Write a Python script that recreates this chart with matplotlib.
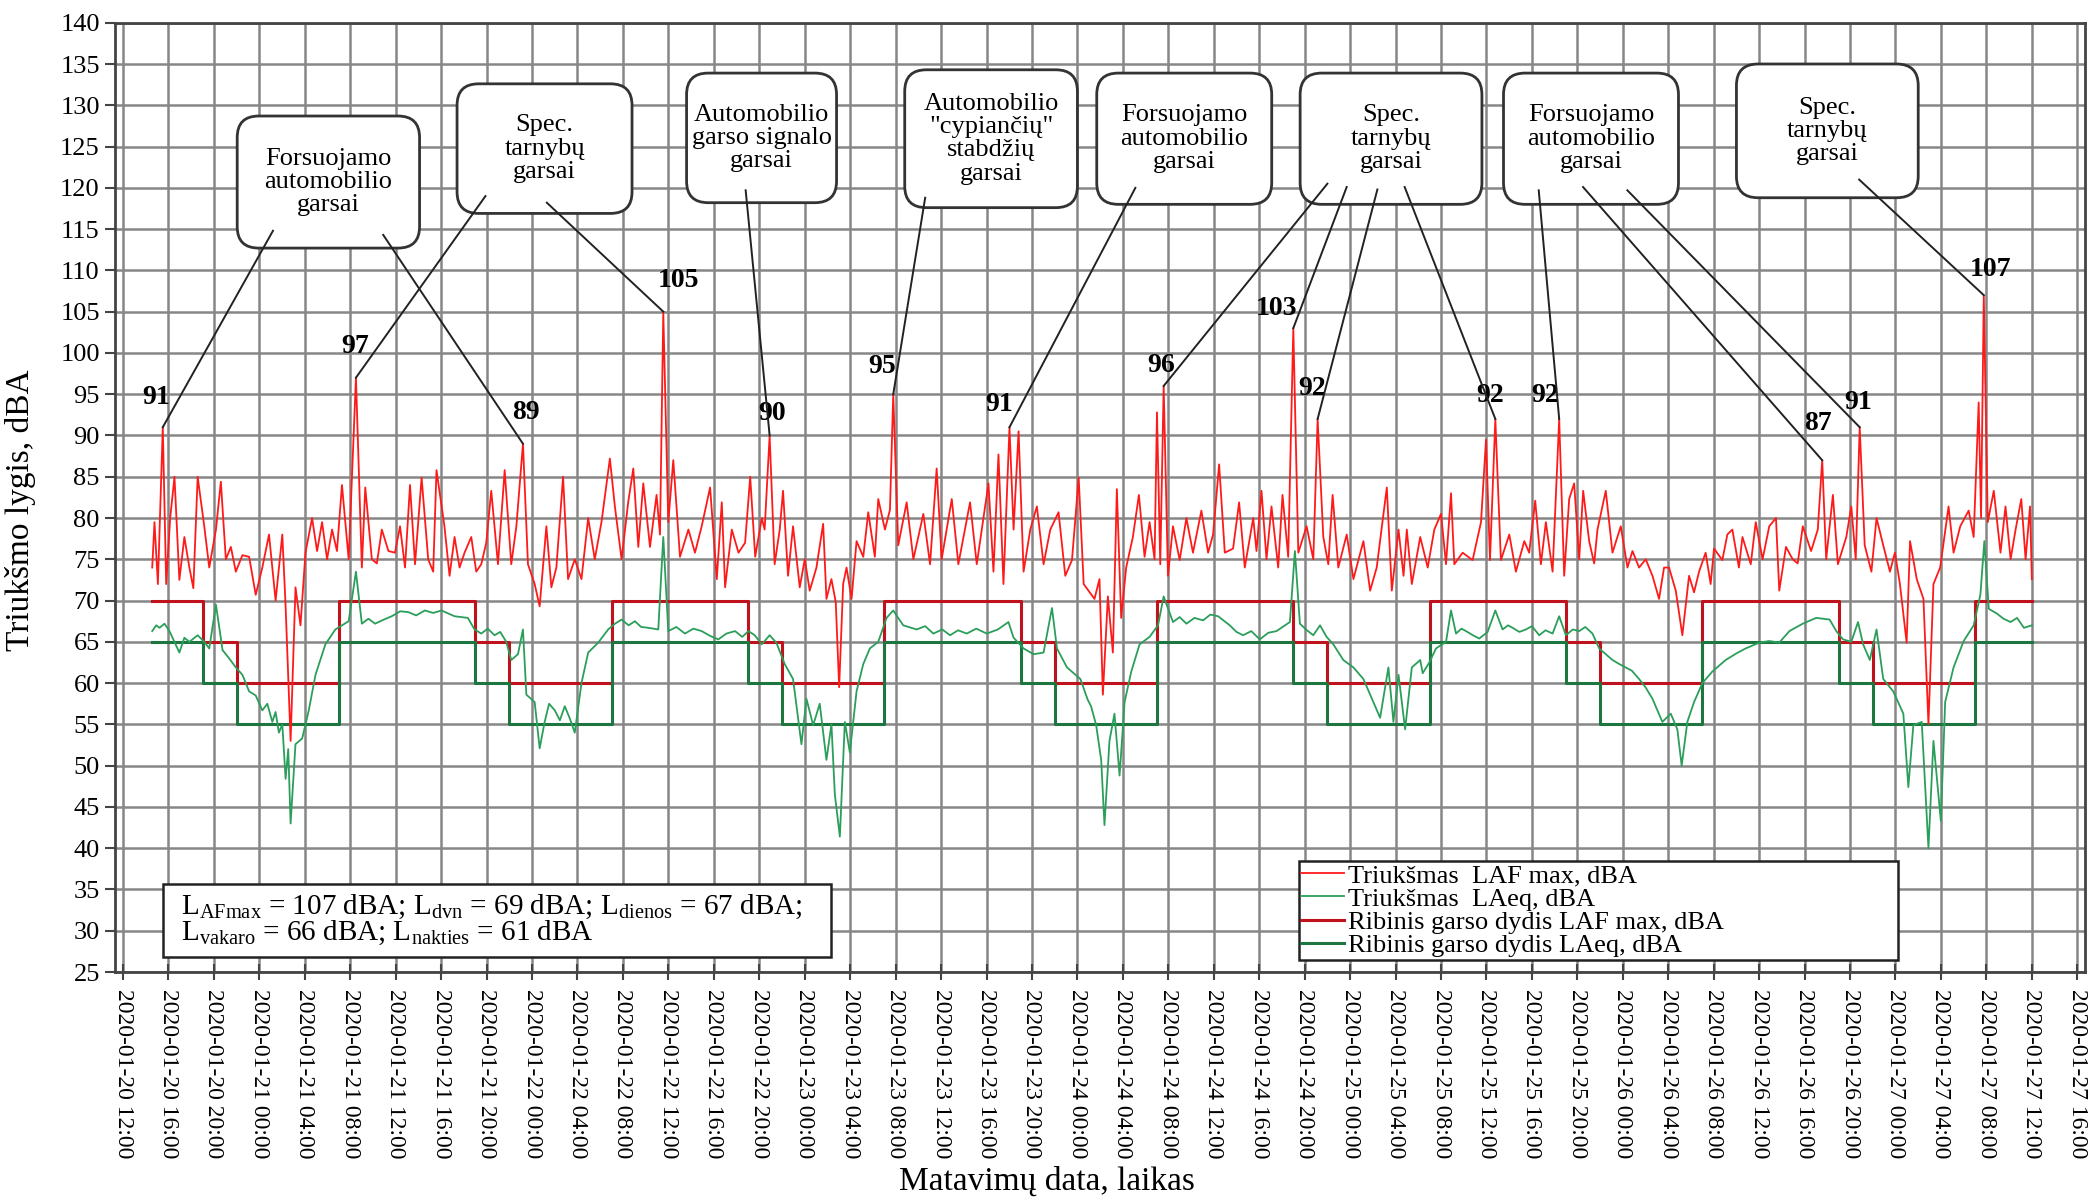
import datetime as dt
import numpy as np
import matplotlib
matplotlib.use('Agg')
import matplotlib.pyplot as plt
from matplotlib.patches import FancyBboxPatch, Rectangle
from matplotlib.ticker import MultipleLocator, FuncFormatter

plt.rcParams['font.family'] = ['Liberation Serif', 'DejaVu Serif']
plt.rcParams['mathtext.fontset'] = 'stix'

start = dt.datetime(2020, 1, 20, 12, 0)

# measured noise, hours after 2020-01-20 12:00
laf_t = [2.57, 2.77, 3.07, 3.50, 3.80, 4.15, 4.53, 4.96, 5.40, 5.84, 6.19, 6.57, 7.15, 7.59, 8.18, 8.61, 9.05, 9.49, 9.93, 10.51,
         11.10, 11.68, 12.26, 12.85, 13.43, 14.02, 14.31, 14.75, 15.18, 15.62, 16.06, 16.64, 17.08, 17.52, 17.96, 18.40, 18.83, 19.27, 19.86, 20.50,
         21.02, 21.32, 21.90, 22.34, 22.78, 23.36, 23.94, 24.38, 24.82, 25.26, 25.70, 26.28, 26.86, 27.30, 27.59,
         28.29, 28.74, 29.18, 29.62, 30.06, 30.65, 31.09, 31.53, 31.97, 32.41, 33.00, 33.59, 34.17, 34.62, 35.20, 35.64, 36.23, 36.67, 37.26, 37.70,
         38.14, 38.73, 39.17, 39.76, 40.35, 40.94, 41.52, 42.11, 42.85, 43.29, 43.88, 44.46, 44.91, 45.35, 45.79, 46.38, 46.96, 47.26, 47.55, 47.99,
         48.43, 49.02, 49.76, 50.34, 50.93, 51.67, 52.26, 52.70, 52.99, 53.58, 54.17, 54.75, 55.20, 55.64, 56.22,
         56.47, 56.91, 57.35, 57.80, 58.09, 58.53, 58.97, 59.56, 60.00, 60.44, 61.03, 61.62, 61.91, 62.35, 62.73, 63.03, 63.38, 63.68, 64.12, 64.56,
         65.15, 65.59, 66.17, 66.47, 67.06, 67.50, 67.79, 68.23, 68.97, 69.56, 70.44, 71.03, 71.61, 72.05, 72.94, 73.52, 74.55, 75.14, 76.17, 76.61,
         77.05, 77.49, 78.02, 78.38, 78.82, 79.26, 79.85, 80.43, 81.02, 81.61, 82.34, 82.93, 83.52, 84.11, 84.55,
         85.50, 85.94, 86.24, 86.68, 87.12, 87.47, 87.85, 88.29, 88.88, 89.41, 89.91, 90.35, 90.79, 91.00, 91.29, 91.59, 91.97, 92.41, 93.00, 93.59,
         94.17, 94.91, 95.50, 95.94, 96.47, 96.97, 97.70, 98.23, 98.73, 99.47, 99.76, 100.20, 100.64, 101.08, 101.67, 102.05, 102.55, 103.00, 103.44, 104.17,
         104.76, 105.14, 105.64, 106.08, 106.46, 106.96, 107.70, 108.29, 109.17, 109.76, 110.34, 111.23, 111.67, 112.26, 112.70, 112.99, 113.43, 114.17,
         114.83, 115.41, 116.00, 116.44, 116.88, 117.17, 117.90, 118.78, 119.52, 119.96, 120.31, 120.78, 121.27, 122.01, 122.59, 123.33, 123.76, 124.29, 124.79, 125.23,
         125.82, 126.40, 126.84, 127.28, 127.72, 128.16, 128.51, 129.04, 129.48, 129.77, 130.50, 131.09, 131.82, 132.41, 132.85, 133.43, 134.02, 134.61, 135.19, 135.63,
         136.07, 136.66, 137.24, 137.83, 138.27, 138.71, 139.29, 139.73, 140.03, 140.76, 141.20, 141.64, 142.22,
         142.53, 143.26, 143.70, 144.30, 144.89, 145.48, 145.77, 146.36, 146.95, 147.39, 147.84, 148.57, 149.16, 149.55, 149.90, 150.49, 150.93, 151.67, 152.11, 152.50,
         152.85, 153.29, 153.88, 154.33, 154.92, 155.51, 155.95, 156.39, 156.98, 157.28, 157.87, 158.46, 158.90, 159.34, 159.93, 160.67, 161.11, 161.70, 162.44, 162.88,
         163.32, 163.53, 163.77, 164.12, 164.65, 165.24, 165.68, 166.13, 166.57, 167.07, 167.45, 167.84, 168.00]
laf_v = [74, 79.5, 72, 91, 72, 80, 85, 72.5, 77.7, 74, 71.5, 85, 79, 74, 78.6, 84.4, 75, 76.5, 73.5, 75.5,
         75.3, 70.7, 74, 78, 70, 78, 69.3, 53, 71.6, 67, 75.8, 80, 76, 79.5, 75, 78.6, 76, 84, 75, 97,
         74, 83.7, 75, 74.5, 78.6, 76, 75.8, 79, 74, 84, 74.4, 84.9, 75, 73.5, 85.8,
         79, 73, 77.7, 74, 75.8, 77.7, 73.5, 74.4, 77, 83.3, 74.4, 85.8, 74.4, 79, 89, 74.4, 72, 69.3, 79, 71.6,
         74, 85, 72.6, 75, 72.6, 80, 75, 79.5, 87.2, 81.4, 75, 81.9, 86, 76.5, 84.2, 76.5, 82.8, 78, 105, 79.5,
         87, 75.3, 78.6, 75.8, 79, 83.7, 72.6, 81.9, 71.6, 78.6, 75.8, 77, 85, 75.3, 80,
         78.6, 90, 74.4, 78.6, 83.3, 73, 79, 71.6, 75, 71.2, 74, 79.3, 70.2, 72.6, 69.8, 59.5, 72, 74, 70.2, 77.2,
         75.3, 80.7, 75.3, 82.3, 78.6, 81, 95, 76.7, 81.9, 75, 80.5, 74.4, 86, 75, 82.3, 74.4, 81.9, 74.4, 84.2, 73.5,
         87.7, 72, 91, 78.6, 90.5, 73.5, 78.6, 81.4, 74.4, 78.6, 80.7, 73, 74.9, 84.9, 72,
         70.2, 72.6, 58.6, 70.5, 63.7, 83.5, 67.9, 74, 77.7, 82.8, 75.3, 79.5, 75, 92.8, 74.4, 96, 73, 79, 74.9, 80,
         75.8, 80.9, 75.8, 78, 86.5, 75.8, 76.3, 81.9, 74, 80, 76, 83.3, 75, 81.4, 74, 82.8, 75.3, 103, 75.8, 79,
         75, 92, 77.7, 74.4, 82.8, 74, 78, 72.6, 77.2, 71.2, 74, 83.7, 71.2, 78.6, 73, 78.6, 72, 77.7,
         74, 78.6, 80.5, 74.4, 83, 74.4, 75.8, 74.9, 79.5, 89.5, 74.9, 92, 74.9, 78, 73.5, 77.2, 75.8, 82.1, 74.4, 79.5,
         73.5, 92, 73, 82.3, 84.2, 75, 83.3, 77.2, 74.5, 78.6, 83.3, 75.8, 79, 74, 76, 74, 75, 73, 70.2, 74,
         74, 71.2, 65.8, 73, 71, 73.5, 75.8, 72, 76.3, 74.9, 78, 78.6, 74,
         77.7, 74.4, 79.5, 75, 79, 80, 71.2, 76.5, 75, 74.5, 79, 76, 78.6, 87, 75, 82.8, 74.4, 77.7, 81.4, 75,
         91, 76.7, 73.5, 80, 76.7, 73.5, 75.8, 72, 64.9, 77.2, 72.6, 70.2, 55, 72, 74, 81.4, 75.8, 79, 80.9, 77.7,
         94, 80, 107, 79.5, 83.3, 75.8, 81.4, 75, 78.6, 82.3, 75, 81.4, 72.6]

laeq_t = [2.57, 2.92, 3.21, 3.65, 4.09, 4.53, 4.96, 5.40, 5.84, 6.57, 7.15, 7.59, 8.18, 8.76, 9.34, 9.93, 10.51, 11.10, 11.68, 12.26,
          12.70, 13.14, 13.43, 13.72, 14.02, 14.31, 14.54, 14.75, 15.18, 15.77, 16.35, 16.94, 17.81, 18.69, 19.27, 19.86, 20.50, 21.02, 21.60, 22.19,
          22.80, 23.65, 24.40, 25.11, 25.80, 26.57, 27.30,
          28.03, 29.18, 30.35, 30.94, 31.53, 32.10, 32.70, 33.20, 33.73, 34.17, 34.76, 35.20, 35.50, 36.23, 36.67, 37.11, 37.50, 38.00, 38.45, 38.88,
          39.30, 39.76, 40.35, 40.94, 41.82, 42.70, 43.30, 43.88, 44.50, 45.05, 45.60, 46.23, 47.11, 47.55, 47.99, 48.70, 49.46, 50.20, 50.93, 51.70,
          52.40, 53.10, 53.87, 54.50, 55.05, 55.60, 56.22,
          56.91, 57.50, 58.24, 58.97, 59.71, 60.15, 60.74, 61.32, 61.91, 62.35, 62.65, 63.09, 63.53, 63.97, 64.56, 65.15, 65.73, 66.47, 67.20, 67.79,
          68.67, 69.85, 70.60, 71.32, 72.10, 72.79, 73.50, 74.26, 75.10, 76.02, 77.00, 77.93, 78.38, 79.26, 80.14, 81.02, 81.76, 82.20, 83.08, 84.26,
          84.90, 85.20, 85.65, 86.09, 86.38, 86.82, 87.26, 87.71, 88.15, 88.74, 89.47, 90.35, 91.09, 91.59, 92.41, 93.00, 93.59, 94.30, 95.06, 95.70,
          96.38, 97.41, 98.00, 98.58, 99.30, 100.05, 100.80, 101.52, 102.70, 103.14, 103.58, 104.20, 104.76, 105.35, 105.93, 106.52, 107.40, 108.29, 109.17, 110.05,
          110.64, 111.37, 111.81, 112.26, 112.84, 113.43, 114.17,
          114.39, 114.97, 115.56, 116.44, 116.88, 117.32, 117.80, 118.20, 118.80, 119.37, 120.10, 120.78, 121.42, 121.90, 122.30, 122.90, 123.47, 124.00, 124.64, 125.20,
          125.82, 126.40, 126.99, 127.60, 128.16, 128.70, 129.33, 129.92, 130.50, 131.09, 131.70, 132.26, 132.80, 133.43, 134.00, 134.61, 135.48, 136.22, 136.80, 137.18,
          137.68, 138.27, 139.00, 139.88, 141.05, 142.00, 142.81,
          144.00, 144.89, 145.77, 146.66, 147.84, 149.02, 150.20, 150.79, 151.38, 152.11, 152.70, 153.15, 153.74, 154.33, 154.92, 155.80, 156.69, 157.13, 157.57, 158.31,
          158.90, 159.34, 159.99, 160.37, 161.11, 162.00, 162.88, 163.47, 163.82, 164.21, 164.95, 165.50, 166.13, 166.70, 167.30, 168.00]
laeq_v = [66.3, 67, 66.7, 67.2, 66.3, 65, 63.7, 65.5, 65, 65.8, 65, 64.2, 69.5, 64, 63, 61.9, 61, 59, 58.5, 56.7,
          57.5, 55.3, 56.5, 54, 55, 48.4, 52, 43, 52.6, 53.3, 56.7, 61, 64.7, 66.5, 67, 67.5, 73.5, 67.2, 67.8, 67.2,
          67.6, 68.1, 68.7, 68.6, 68.2, 68.8, 68.5,
          68.8, 68.1, 67.9, 66.5, 66, 66.6, 65.8, 66.2, 65, 62.8, 63.5, 66.5, 58.6, 57.7, 52.1, 55.3, 57.5, 56.7, 55.5, 57.2,
          55.8, 54, 60, 63.7, 64.9, 66.5, 67.2, 67.7, 67.0, 67.5, 66.8, 66.7, 66.5, 77.7, 66.3, 66.8, 66, 66.6, 66.3, 65.7,
          65.3, 66.0, 66.3, 65.6, 66.3, 65.8, 64.7,
          65.8, 64.9, 62.3, 60.5, 52.6, 58.1, 54.9, 57.5, 50.7, 55, 46.5, 41.4, 55.3, 51.6, 59, 62.3, 64.2, 65, 67.9, 68.8,
          67, 66.5, 66.9, 66, 66.5, 65.8, 66.4, 66, 66.6, 66, 66.5, 67.4, 65.5, 64.2, 63.5, 63.7, 69.1, 64.2, 61.9, 60.5,
          58, 57.2, 54.9, 50.7, 42.8, 53, 56.3, 48.8, 57.7, 61.4, 64.7, 65.6, 67, 70.5, 67.4, 68, 67.2, 67.9, 67.6, 68.3,
          68.1, 67, 66.2, 65.8, 66.3, 65.3, 66.1, 66.3, 67.4, 76, 67.2, 66.4, 65.8, 67, 65.6, 64.7, 62.8, 61.9, 60.5, 57.7,
          55.8, 61.9, 55.3, 61, 54.4, 61.9, 62.8,
          61.2, 62.5, 64.2, 65, 68.8, 66, 66.6, 66.3, 65.8, 65.4, 66.2, 68.8, 66.5, 67, 66.7, 66.2, 66.5, 66.9, 65.8, 66.4,
          66, 68.1, 65.8, 66.5, 66.3, 66.8, 66, 64.2, 63.5, 62.8, 62.3, 61.9, 61.5, 60.5, 59.5, 58.1, 55.3, 56.3, 54.4, 50,
          55.3, 57.7, 60, 61.4, 62.8, 63.6, 64.2,
          64.9, 65.1, 64.9, 66.3, 67.2, 67.9, 67.7, 66.3, 65.3, 65, 67.4, 64.7, 62.8, 66.5, 60.5, 59, 56.3, 47.4, 54.9, 55.3,
          40, 53, 43.3, 57.7, 61.9, 65.1, 67, 70.7, 77.2, 69, 68.4, 67.8, 67.4, 67.9, 66.7, 67]

# limit values (day 07-19, evening 19-22, night 22-07)
lim_t = [2.57, 7, 10, 19, 31, 34, 43, 55, 58, 67, 79, 82, 91, 103, 106, 115, 127, 130, 139, 151, 154, 163, 168]
lim_laf = [70, 65, 60] * 7 + [70, 70]
lim_laeq = [65, 60, 55] * 7 + [65, 65]

assert len(laf_t) == len(laf_v) and len(laeq_t) == len(laeq_v)

# callout boxes
box_text = ['Forsuojamo\nautomobilio\ngarsai', 'Spec.\ntarnybų\ngarsai', 'Automobilio\ngarso signalo\ngarsai',
            'Automobilio\n"cypiančių"\nstabdžių\ngarsai', 'Forsuojamo\nautomobilio\ngarsai', 'Spec.\ntarnybų\ngarsai',
            'Forsuojamo\nautomobilio\ngarsai', 'Spec.\ntarnybų\ngarsai']
box_left = [10.05, 29.4, 49.6, 68.8, 85.7, 103.6, 121.5, 142.0]
box_right = [26.1, 44.8, 62.8, 84.0, 101.1, 119.6, 136.9, 158.0]
box_bottom = [112.7, 116.9, 118.2, 117.6, 118.0, 118.0, 118.0, 118.8]
box_top = [128.7, 132.6, 133.9, 134.3, 133.9, 133.9, 133.9, 135.0]

# labelled peaks
peak_t = [3.5, 20.5, 35.2, 47.55, 56.91, 67.79, 78.02, 91.59, 103.0, 105.14, 120.78, 126.4, 149.55, 152.85, 163.77]
peak_label_t = [2.9, 20.4, 35.5, 48.9, 57.1, 66.8, 77.1, 91.4, 101.5, 104.7, 120.3, 125.2, 149.2, 152.7, 164.4]
peak_label_db = [94.6, 100.8, 92.8, 108.8, 92.7, 98.3, 93.8, 98.5, 105.4, 95.7, 94.8, 94.8, 91.4, 94.0, 110.1]

# leader lines: start inside a box, end at a peak
lead_t = [13.2, 22.9, 31.9, 37.3, 54.8, 70.6, 89.1, 106.0, 107.7, 110.4, 112.8, 124.6, 128.5, 132.4, 152.8]
lead_db = [114.8, 114.3, 119.0, 118.2, 119.7, 118.8, 120.0, 120.5, 120.1, 119.8, 120.1, 119.7, 120.1, 119.7, 121.0]
lead_peak = [0, 2, 1, 3, 4, 5, 6, 7, 8, 9, 10, 11, 12, 13, 14]

fig = plt.figure(figsize=(20.92, 12.03), dpi=100)
ax = fig.add_axes([0.055, 0.192, 0.9415, 0.7891])

ax.plot(laf_t, laf_v, color='#ff1a1a', lw=1.3, zorder=3, label='Triukšmas  LAF max, dBA')
ax.plot(laeq_t, laeq_v, color='#2b9e5a', lw=1.3, zorder=3, label='Triukšmas  LAeq, dBA')
ax.step(lim_t, lim_laf, where='post', color='#c0121c', lw=2.2, zorder=2.5, label='Ribinis garso dydis LAF max, dBA')
ax.step(lim_t, lim_laeq, where='post', color='#1d7540', lw=2.2, zorder=2.5, label='Ribinis garso dydis LAeq, dBA')

ax.set_xlim(-0.7, 172.65)
ax.set_ylim(25, 140)
ax.xaxis.set_major_locator(MultipleLocator(4))
ax.xaxis.set_major_formatter(FuncFormatter(
    lambda x, pos: (start + dt.timedelta(hours=x)).strftime('%Y-%m-%d %H:%M')))
ax.set_yticks(np.arange(25, 141, 5))
ax.grid(True, color='#878787', lw=1.8)
ax.set_axisbelow(True)
for s in ax.spines.values():
    s.set_color('#444444')
    s.set_linewidth(2)
ax.tick_params(axis='y', direction='out', length=7, width=1.5, labelsize=19, pad=4, color='#444444')
ax.tick_params(axis='x', direction='inout', length=12, width=1.5, labelsize=17, pad=6,
               labelrotation=-90, color='#444444')

ax.set_xlabel('Matavimų data, laikas', fontsize=24)
ax.set_ylabel('Triukšmo lygis, dBA', fontsize=24)
ax.xaxis.set_label_coords(0.473, -0.205)
ax.yaxis.set_label_coords(-0.04, 0.487)

# callouts
for i, txt in enumerate(box_text):
    w = box_right[i] - box_left[i]
    h = box_top[i] - box_bottom[i]
    ax.add_patch(FancyBboxPatch((box_left[i], box_bottom[i]), w, h,
                                boxstyle='round,pad=0,rounding_size=1.9', mutation_aspect=1.37,
                                fc='white', ec='#333333', lw=2, zorder=5))
    ax.text(box_left[i] + w / 2, box_bottom[i] + h / 2, txt, ha='center', va='center',
            fontsize=19, linespacing=1.08, zorder=6)

laf_arr = np.array(laf_t)
peak_idx = [int(np.argmin(np.abs(laf_arr - t))) for t in peak_t]
for k, idx in enumerate(peak_idx):
    ax.text(peak_label_t[k], peak_label_db[k], f'{laf_v[idx]:.0f}', ha='center', va='center',
            fontsize=20, fontweight='bold', zorder=6)
for k, p in enumerate(lead_peak):
    idx = peak_idx[p]
    ax.plot([lead_t[k], laf_t[idx]], [lead_db[k], laf_v[idx]], color='#222222', lw=1.4, zorder=6)

# summary box
ax.add_patch(Rectangle((3.5, 26.8), 58.8, 8.9, fc='white', ec='#222222', lw=1.8, zorder=5))
ax.text(5.1, 32.9, r'$\mathregular{L_{AFmax}}$ = 107 dBA; $\mathregular{L_{dvn}}$ = 69 dBA; '
        r'$\mathregular{L_{dienos}}$ = 67 dBA;', fontsize=21, va='center', ha='left', zorder=6)
ax.text(5.1, 29.7, r'$\mathregular{L_{vakaro}}$ = 66 dBA; $\mathregular{L_{nakties}}$ = 61 dBA',
        fontsize=21, va='center', ha='left', zorder=6)

leg = ax.legend(loc='upper left', bbox_to_anchor=(0.601, 0.016, 0.304, 0.101), mode='expand',
                fontsize=19, fancybox=False, edgecolor='#222222', framealpha=1, borderpad=0.1,
                labelspacing=0.0, handlelength=1.6, handletextpad=0.15, borderaxespad=0,
                alignment='center')
leg.get_frame().set_linewidth(1.8)
leg.set_zorder(7)

fig.savefig('out.png', dpi=100, facecolor='white')
